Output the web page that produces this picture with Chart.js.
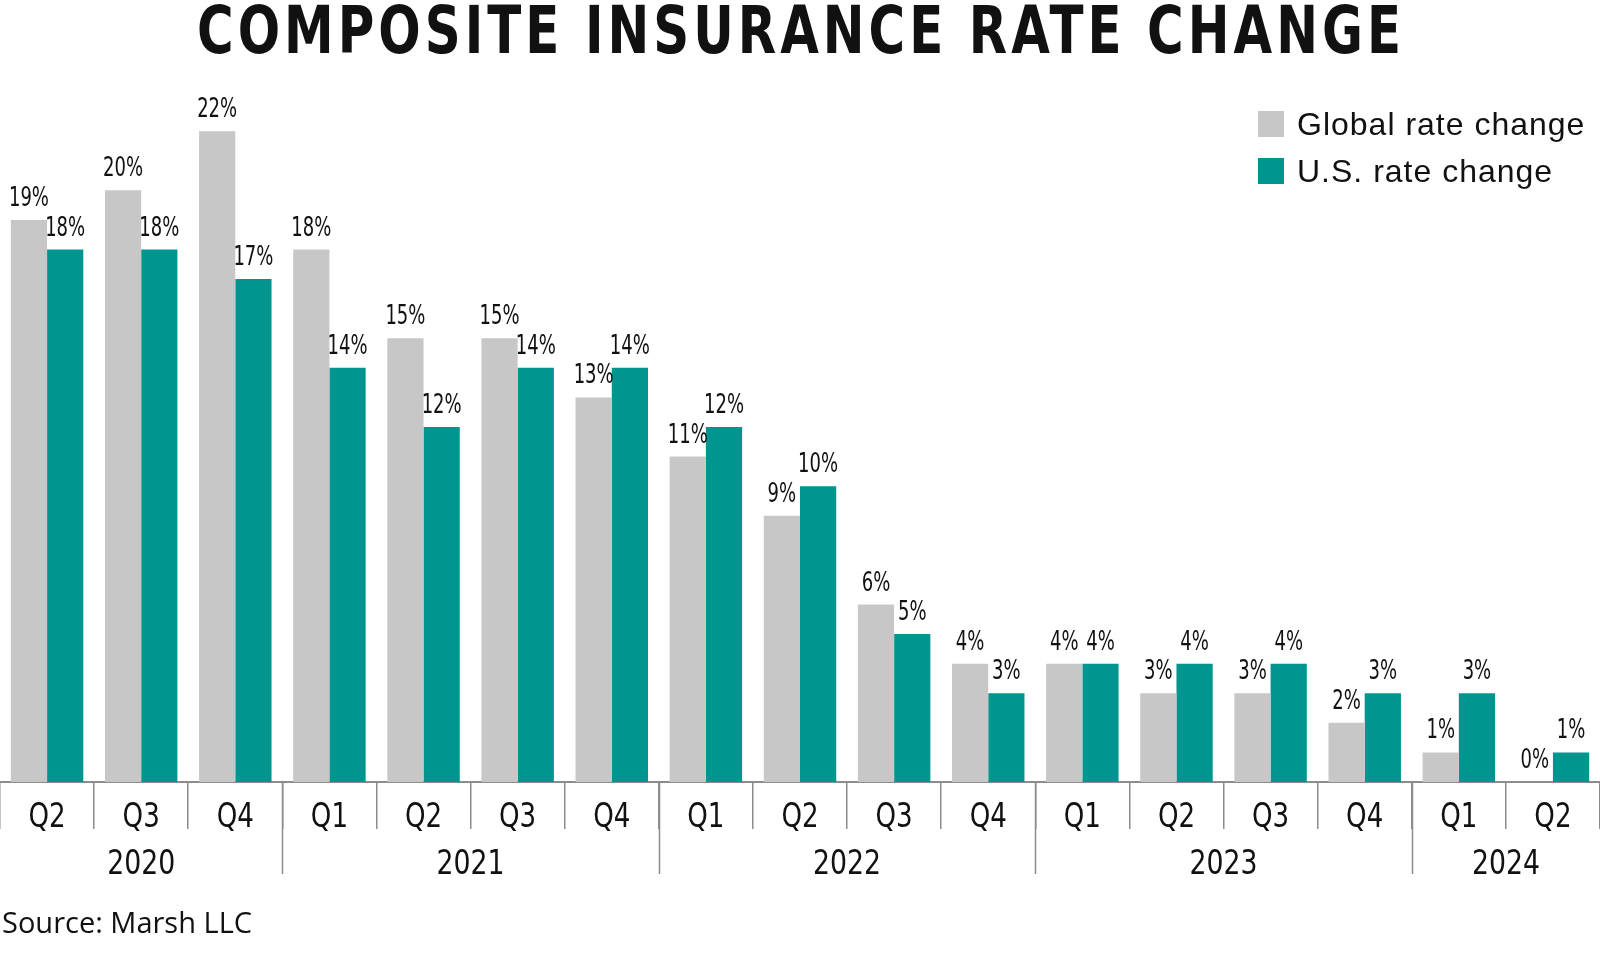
<!DOCTYPE html>
<html>
<head>
<meta charset="utf-8">
<title>Composite insurance rate change</title>
<script src="https://cdn.jsdelivr.net/npm/chart.js@4.4.1/dist/chart.umd.min.js"></script>
<style>
  html, body { margin: 0; padding: 0; background: #fff; }
  #wrap { width: 1600px; height: 960px; }
</style>
</head>
<body>
<div id="wrap"><canvas id="rateChart" width="1600" height="960"></canvas></div>
<script>
const quarters = ['Q2','Q3','Q4','Q1','Q2','Q3','Q4','Q1','Q2','Q3','Q4','Q1','Q2','Q3','Q4','Q1','Q2'];
const years = ['2020', '2021', '2022', '2023', '2024'];
const quartersPerYear = [3, 4, 4, 4, 2];
const globalRate = [19, 20, 22, 18, 15, 15, 13, 11, 9, 6, 4, 4, 3, 3, 2, 1, 0];
const usRate = [18, 18, 17, 14, 12, 14, 14, 12, 10, 5, 3, 4, 4, 4, 3, 3, 1];
const seriesNames = ['Global rate change', 'U.S. rate change'];
const titleText = 'COMPOSITE INSURANCE RATE CHANGE';
const sourceText = 'Source: Marsh LLC';

const GRAY = '#c6c7c6';
const TEAL = '#00968f';
const LINE = '#8c8c8c';
const COND = "'DejaVu Sans Condensed', 'DejaVu Sans', sans-serif";
const PLAIN = "'Liberation Sans', Arial, sans-serif";

// text squeezed horizontally, centred on x
function squashText(ctx, text, x, y, sx) {
    ctx.save();
    ctx.translate(x, y);
    ctx.scale(sx, 1);
    ctx.textAlign = 'center';
    ctx.fillText(text, 0, 0);
    ctx.restore();
}

// labels, legend, title, two-row axis
const decorations = {
    id: 'decorations',
    afterDatasetsDraw(chart) {
        const ctx = chart.ctx;
        ctx.save();
        ctx.fillStyle = '#111';
        ctx.textBaseline = 'alphabetic';
        ctx.font = '26px ' + COND;
        chart.data.datasets.forEach((ds, di) => {
            chart.getDatasetMeta(di).data.forEach((bar, i) => {
                squashText(ctx, ds.data[i] + '%', bar.x, bar.y - 14, 0.77);
            });
        });
        ctx.restore();
    },
    afterDraw(chart) {
        const ctx = chart.ctx;
        const xs = chart.scales.x;
        const axisY = chart.chartArea.bottom;
        const half = (xs.getPixelForValue(1) - xs.getPixelForValue(0)) / 2;

        ctx.save();
        ctx.fillStyle = '#111';
        ctx.textBaseline = 'alphabetic';

        // quarter row
        ctx.font = '33px ' + COND;
        quarters.forEach((q, i) => {
            squashText(ctx, q, xs.getPixelForValue(i), axisY + 45, 0.88);
        });

        // year row
        ctx.strokeStyle = LINE;
        ctx.lineWidth = 1.5;
        let start = 0;
        years.forEach((yr, k) => {
            const n = quartersPerYear[k];
            const left = xs.getPixelForValue(start) - half;
            const right = xs.getPixelForValue(start + n - 1) + half;
            squashText(ctx, yr, (left + right) / 2, axisY + 92, 0.9);
            if (k > 0) {
                const bx = Math.round(left) + 0.5;
                ctx.beginPath();
                ctx.moveTo(bx, axisY);
                ctx.lineTo(bx, axisY + 92);
                ctx.stroke();
            }
            start += n;
        });

        // title: condensed bold with a little tracking, fitted to the reference width
        const target = 1204, sx = 0.84;
        ctx.font = 'bold 66px ' + COND;
        ctx.textAlign = 'left';
        const w = ctx.measureText(titleText).width;
        const sp = Math.max(0, (target / sx - w) / (titleText.length - 1));
        ctx.save();
        ctx.translate(799 - target / 2, 53);
        ctx.scale(sx, 1);
        ctx.letterSpacing = sp + 'px';
        ctx.fillText(titleText, 0, 0);
        ctx.restore();

        // legend
        const colors = [GRAY, TEAL];
        const legY = [111, 158];
        ctx.font = '32px ' + PLAIN;
        ctx.letterSpacing = '1px';
        seriesNames.forEach((name, i) => {
            ctx.fillStyle = colors[i];
            ctx.fillRect(1258, legY[i], 26, 26);
            ctx.fillStyle = '#111';
            ctx.fillText(name, 1297, legY[i] + 24);
        });
        ctx.letterSpacing = '0px';

        // source
        ctx.font = "29px 'Open Sans', sans-serif";
        ctx.fillText(sourceText, 2, 933);
        ctx.restore();
    }
};

const ctx = document.getElementById('rateChart').getContext('2d');
const chartInstance = new Chart(ctx, {
    type: 'bar',
    data: {
        labels: quarters,
        datasets: [{
            label: seriesNames[0],
            data: globalRate,
            backgroundColor: GRAY,
            borderWidth: 0,
            barPercentage: 1,
            categoryPercentage: 0.77
        }, {
            label: seriesNames[1],
            data: usRate,
            backgroundColor: TEAL,
            borderWidth: 0,
            barPercentage: 1,
            categoryPercentage: 0.77
        }]
    },
    options: {
        responsive: false,
        animation: false,
        devicePixelRatio: 1,
        layout: { padding: { top: 72, bottom: 131, left: 0, right: 0 } },
        plugins: {
            legend: { display: false },
            tooltip: { enabled: false }
        },
        scales: {
            y: { display: false, min: 0, max: 24 },
            x: {
                offset: true,
                grid: {
                    offset: true,
                    drawOnChartArea: false,
                    drawTicks: true,
                    tickLength: 47,
                    color: LINE,
                    lineWidth: 1.5
                },
                border: { color: LINE, width: 2 },
                ticks: { display: false }
            }
        }
    },
    plugins: [decorations]
});
</script>
</body>
</html>
